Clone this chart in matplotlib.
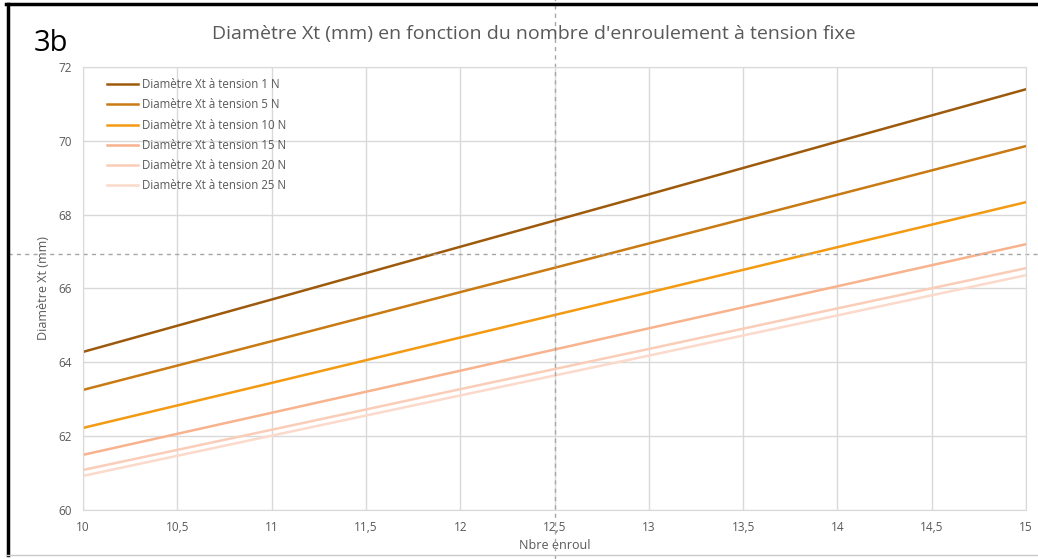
import matplotlib.pyplot as plt
from matplotlib.lines import Line2D
from matplotlib.ticker import MultipleLocator, FuncFormatter

# number of windings and diameter Xt (mm) for each tension
nbre_enroul = [10, 11, 12, 13, 14, 15]
tensions = ["1 N", "5 N", "10 N", "15 N", "20 N", "25 N"]
diam_1N = [64.28, 65.70, 67.13, 68.55, 69.98, 71.40]
diam_5N = [63.25, 64.57, 65.90, 67.22, 68.54, 69.86]
diam_10N = [62.22, 63.44, 64.67, 65.89, 67.12, 68.34]
diam_15N = [61.49, 62.63, 63.77, 64.92, 66.06, 67.20]
diam_20N = [61.08, 62.17, 63.27, 64.36, 65.46, 66.55]
diam_25N = [60.92, 62.01, 63.10, 64.18, 65.27, 66.36]
series = [diam_1N, diam_5N, diam_10N, diam_15N, diam_20N, diam_25N]
colors = ["#9E5A0C", "#C97A12", "#F39A12", "#F8B38E", "#FACDB8", "#FBD9CB"]

plt.rcParams['font.family'] = ['Open Sans', 'DejaVu Sans']
gray = "#595959"

fig = plt.figure(figsize=(10.38, 5.59), dpi=100)
ax = fig.add_axes([0.080, 0.088, 0.9085, 0.792])

for vals, t, c in zip(series, tensions, colors):
    ax.plot(nbre_enroul, vals, color=c, lw=1.8, label="Diamètre Xt à tension " + t)

ax.set_xlim(10, 15)
ax.set_ylim(60, 72)
ax.xaxis.set_major_locator(MultipleLocator(0.5))
ax.yaxis.set_major_locator(MultipleLocator(2))
ax.xaxis.set_major_formatter(FuncFormatter(lambda v, p: ("%g" % v).replace(".", ",")))
ax.grid(True, color="#D9D9D9", lw=1)
ax.set_axisbelow(True)
for s in ax.spines.values():
    s.set_color("#D9D9D9")
ax.tick_params(length=0, colors=gray, labelsize=8.5, pad=8)

ax.set_xlabel("Nbre enroul", color=gray, fontsize=9, labelpad=4)
ax.set_ylabel("Diamètre Xt (mm)", color=gray, fontsize=9, labelpad=6)
fig.text(0.514, 0.94, "Diamètre Xt (mm) en fonction du nombre d'enroulement à tension fixe",
         ha="center", va="center", color=gray, fontsize=14)
fig.text(0.032, 0.922, "3b", fontsize=21, color="black", va="center")

leg = ax.legend(loc="upper left", frameon=False, fontsize=8.3, handlelength=2.7,
                handletextpad=0.4, labelspacing=0.62, borderaxespad=0.0,
                bbox_to_anchor=(0.02, 0.985))
for txt in leg.get_texts():
    txt.set_color(gray)

# dashed crosshair over the whole picture
ax.axvline(12.5, ymin=-0.11, ymax=1.155, clip_on=False, color="#A6A6A6", lw=1, ls=(0, (3, 3)))
ax.axhline(66.93, xmin=-0.08, xmax=1.02, clip_on=False, color="#A6A6A6", lw=1, ls=(0, (3, 3)))

# frame of the screenshot
fig.add_artist(Line2D([0.006, 1], [0.992, 0.992], color="black", lw=2.5))
fig.add_artist(Line2D([0.0075, 0.0075], [0.007, 0.992], color="black", lw=2.5))
fig.add_artist(Line2D([0.006, 1], [0.007, 0.007], color="#C8C8C8", lw=1))

fig.savefig("out.png", dpi=100)
